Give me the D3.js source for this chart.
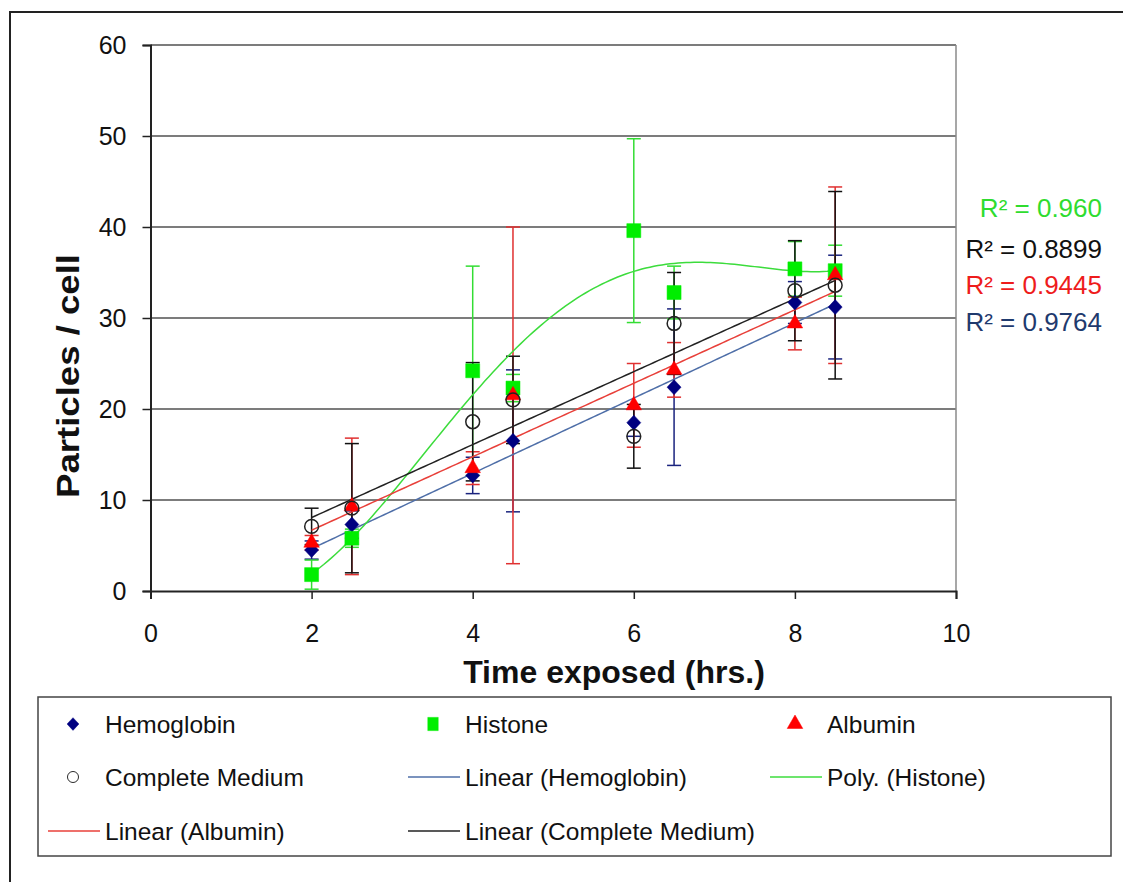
<!DOCTYPE html>
<html>
<head>
<meta charset="utf-8">
<script src="https://cdn.jsdelivr.net/npm/d3@7"></script>
<style>
  body { margin: 0; background: #fff; }
  text { font-family: "Liberation Sans", Arial, sans-serif; }
</style>
</head>
<body>
<script>
// values
var times = [2, 2.5, 4, 4.5, 6, 6.5, 8, 8.5];
var hemoglobin    = [4.5, 7.3, 12.7, 16.5, 18.5, 22.4, 31.7, 31.2];
var hemoglobinErr = [1.0, 1.5, 2.0, 7.8, 1.5, 8.6, 2.3, 5.7];
var histone       = [1.8, 5.8, 24.2, 22.3, 39.6, 32.8, 35.4, 35.2];
var histoneErr    = [1.6, 1.0, 11.5, 1.5, 10.1, 2.9, 3.0, 2.8];
var albumin       = [5.3, 9.3, 13.5, 21.5, 20.4, 24.3, 29.4, 34.7];
var albuminErr    = [0.8, 7.5, 1.8, 18.5, 4.6, 3.0, 2.9, 9.7];
var complete      = [7.1, 9.1, 18.6, 21.0, 17.0, 29.4, 33.0, 33.6];
var completeErr   = [2.0, 7.1, 6.5, 4.8, 3.5, 5.6, 5.5, 10.3];
var xTicks = [0, 2, 4, 6, 8, 10];
var yTicks = [0, 10, 20, 30, 40, 50, 60];
var r2Labels = ["R² = 0.960", "R² = 0.8899", "R² = 0.9445", "R² = 0.9764"];

var series = [
  {name: "Hemoglobin", values: hemoglobin, err: hemoglobinErr, shape: "diamond", fill: "#000080", stroke: "#000080", errColor: "#1a237e", trend: "linear", trendColor: "#4f6fa8", trendName: "Linear (Hemoglobin)"},
  {name: "Histone", values: histone, err: histoneErr, shape: "square", fill: "#00ee00", stroke: "#00ee00", errColor: "#33dd33", trend: "poly", trendColor: "#3cdc3c", trendName: "Poly. (Histone)"},
  {name: "Albumin", values: albumin, err: albuminErr, shape: "triangle", fill: "#ff0000", stroke: "#ff0000", errColor: "#e03030", trend: "linear", trendColor: "#e8403a", trendName: "Linear (Albumin)"},
  {name: "Complete Medium", values: complete, err: completeErr, shape: "circle", fill: "none", stroke: "#222", errColor: "#111", trend: "linear", trendColor: "#222", trendName: "Linear (Complete Medium)"}
];

var w = 1123, h = 882;
var margin = {top: 45, left: 150.5, right: 956, bottom: 591};

var svg = d3.select("body").append("svg")
  .attr("width", w)
  .attr("height", h);

// outer chart frame
svg.append("rect")
  .attr("x", 10).attr("y", 12)
  .attr("width", w + 20).attr("height", h + 20)
  .attr("fill", "#fff")
  .attr("stroke", "#222")
  .attr("stroke-width", 2);

var x = d3.scaleLinear().domain([0, 10]).range([margin.left, margin.right]);
var y = d3.scaleLinear().domain([0, 60]).range([margin.bottom, margin.top]);

// grid + plot frame
svg.selectAll(".grid")
  .data(yTicks.filter(function(d){ return d > 0; }))
  .enter().append("line")
  .attr("class", "grid")
  .attr("x1", margin.left).attr("x2", margin.right)
  .attr("y1", function(d){ return y(d); })
  .attr("y2", function(d){ return y(d); })
  .attr("stroke", "#505050")
  .attr("stroke-width", 1.5);

svg.append("line")
  .attr("x1", margin.right).attr("x2", margin.right)
  .attr("y1", margin.top).attr("y2", margin.bottom)
  .attr("stroke", "#8a8a8a").attr("stroke-width", 1.5);

var yAxis = d3.axisLeft(y).tickValues(yTicks).tickSize(8).tickPadding(16);
var xAxis = d3.axisBottom(x).tickValues(xTicks).tickSize(8).tickPadding(25);

var gy = svg.append("g")
  .attr("transform", "translate(" + margin.left + ",0)")
  .call(yAxis);
var gx = svg.append("g")
  .attr("transform", "translate(0," + margin.bottom + ")")
  .call(xAxis);

[gx, gy].forEach(function(g){
  g.select(".domain").attr("stroke", "#222").attr("stroke-width", 2);
  g.selectAll(".tick line").attr("stroke", "#222").attr("stroke-width", 1.5);
  g.selectAll(".tick text")
    .attr("font-size", 25)
    .attr("fill", "#111")
    .style("font-family", "Liberation Sans, Arial, sans-serif");
});
gx.selectAll(".tick text").attr("dy", "0.71em");

// axis titles
svg.append("text")
  .attr("x", 614).attr("y", 683)
  .attr("text-anchor", "middle")
  .attr("font-size", 32)
  .attr("font-weight", "bold")
  .attr("fill", "#111")
  .text("Time exposed (hrs.)");

svg.append("text")
  .attr("transform", "translate(79,376) rotate(-90)")
  .attr("text-anchor", "middle")
  .attr("font-size", 31)
  .attr("font-weight", "bold")
  .attr("fill", "#111")
  .attr("textLength", 244)
  .attr("lengthAdjust", "spacingAndGlyphs")
  .text("Particles / cell");

// fits
function linearFit(xs, ys) {
  var mx = d3.mean(xs), my = d3.mean(ys);
  var sxy = d3.sum(xs, function(d, i){ return (d - mx) * (ys[i] - my); });
  var sxx = d3.sum(xs, function(d){ return (d - mx) * (d - mx); });
  var b = sxy / sxx;
  return function(t){ return my + b * (t - mx); };
}

function polyFit(xs, ys, order) {
  var n = order + 1;
  var A = [], B = [];
  for (var r = 0; r < n; r++) {
    A.push([]);
    for (var c = 0; c < n; c++) {
      A[r].push(d3.sum(xs, function(d){ return Math.pow(d, r + c); }));
    }
    B.push(d3.sum(xs, function(d, i){ return Math.pow(d, r) * ys[i]; }));
  }
  for (var k = 0; k < n; k++) {
    for (var r2 = k + 1; r2 < n; r2++) {
      var f = A[r2][k] / A[k][k];
      for (var c2 = k; c2 < n; c2++) A[r2][c2] -= f * A[k][c2];
      B[r2] -= f * B[k];
    }
  }
  var coef = new Array(n);
  for (var i = n - 1; i >= 0; i--) {
    var s = B[i];
    for (var j = i + 1; j < n; j++) s -= A[i][j] * coef[j];
    coef[i] = s / A[i][i];
  }
  return function(t){
    return d3.sum(coef, function(cf, p){ return cf * Math.pow(t, p); });
  };
}

// error bars
var capW = 7;
series.forEach(function(s){
  var g = svg.append("g").attr("stroke", s.errColor).attr("stroke-width", 1.5);
  times.forEach(function(t, i){
    var cx = x(t), hi = y(s.values[i] + s.err[i]), lo = y(s.values[i] - s.err[i]);
    g.append("line").attr("x1", cx).attr("x2", cx).attr("y1", hi).attr("y2", lo);
    g.append("line").attr("x1", cx - capW).attr("x2", cx + capW).attr("y1", hi).attr("y2", hi);
    g.append("line").attr("x1", cx - capW).attr("x2", cx + capW).attr("y1", lo).attr("y2", lo);
  });
});

// trend lines
var line = d3.line()
  .x(function(d){ return x(d[0]); })
  .y(function(d){ return y(d[1]); });
var xs = d3.range(times[0], times[times.length - 1] + 0.001, 0.05);

series.forEach(function(s){
  var fn = s.trend === "poly" ? polyFit(times, s.values, 4) : linearFit(times, s.values);
  svg.append("path")
    .datum(xs.map(function(t){ return [t, fn(t)]; }))
    .attr("d", line)
    .attr("fill", "none")
    .attr("stroke", s.trendColor)
    .attr("stroke-width", 1.5);
});

// markers
function shapePath(shape) {
  if (shape === "diamond") return "M0,-7.5L7,0L0,7.5L-7,0Z";
  if (shape === "square") return d3.symbol().type(d3.symbolSquare).size(196)();
  if (shape === "triangle") return d3.symbol().type(d3.symbolTriangle).size(105)();
  return d3.symbol().type(d3.symbolCircle).size(150)();
}

series.forEach(function(s){
  svg.append("g").selectAll("path")
    .data(s.values)
    .enter().append("path")
    .attr("transform", function(d, i){ return "translate(" + x(times[i]) + "," + y(d) + ")"; })
    .attr("d", shapePath(s.shape))
    .attr("fill", s.fill)
    .attr("stroke", s.stroke)
    .attr("stroke-width", s.shape === "circle" ? 1.5 : 0.5);
});

// R² labels
var r2Colors = ["#2fdc2f", "#111", "#ee1c1c", "#1f3a6e"];
var r2Y = [217, 258, 294, 331];
svg.selectAll(".r2")
  .data(r2Labels)
  .enter().append("text")
  .attr("class", "r2")
  .attr("x", 1102)
  .attr("y", function(d, i){ return r2Y[i]; })
  .attr("text-anchor", "end")
  .attr("font-size", 26)
  .attr("fill", function(d, i){ return r2Colors[i]; })
  .text(function(d){ return d; });

// legend
svg.append("rect")
  .attr("x", 38).attr("y", 697)
  .attr("width", 1073).attr("height", 159)
  .attr("fill", "#fff")
  .attr("stroke", "#444")
  .attr("stroke-width", 1.5);

var legendItems = [
  {label: "Hemoglobin", type: "marker", s: series[0]},
  {label: "Histone", type: "marker", s: series[1]},
  {label: "Albumin", type: "marker", s: series[2]},
  {label: "Complete Medium", type: "marker", s: series[3]},
  {label: series[0].trendName, type: "line", s: series[0]},
  {label: series[1].trendName, type: "line", s: series[1]},
  {label: series[2].trendName, type: "line", s: series[2]},
  {label: series[3].trendName, type: "line", s: series[3]}
];
var colX = [73, 433, 795];
var rowY = [724, 777, 831];

legendItems.forEach(function(d, i){
  var cx = colX[i % 3], cy = rowY[Math.floor(i / 3)];
  var g = svg.append("g").attr("transform", "translate(" + cx + "," + cy + ")");
  if (d.type === "marker") {
    var p = g.append("path")
      .attr("d", shapePath(d.s.shape))
      .attr("fill", d.s.fill)
      .attr("stroke", d.s.stroke)
      .attr("stroke-width", d.s.shape === "circle" ? 1.2 : 0.5);
    if (d.s.shape === "circle") p.attr("transform", "scale(0.8)");
    if (d.s.shape === "diamond") p.attr("transform", "scale(0.85)");
    if (d.s.shape === "square") p.attr("transform", "scale(0.75,0.95)");
  } else {
    g.append("line")
      .attr("x1", -25).attr("x2", 27)
      .attr("stroke", d.s.trendColor)
      .attr("stroke-width", 1.5);
  }
  g.append("text")
    .attr("x", 32)
    .attr("y", 0)
    .attr("dy", "0.35em")
    .attr("font-size", 24.5)
    .attr("fill", "#111")
    .text(d.label);
});
</script>
</body>
</html>
